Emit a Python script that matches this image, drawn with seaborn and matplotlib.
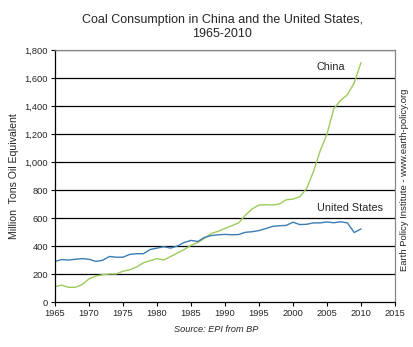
import matplotlib
matplotlib.use("Agg")
import matplotlib.pyplot as plt
import seaborn as sns
import pandas as pd

years = list(range(1965, 2011))
china = [110, 120, 105, 105, 125, 165, 185, 195, 200, 200,
         220, 230, 250, 280, 295, 310, 300, 325, 350, 375,
         405, 425, 455, 490, 505, 525, 545, 565, 620, 665,
         693, 695, 693, 700, 730, 735, 752, 810, 930, 1080,
         1200, 1380, 1440, 1480, 1565, 1710]
us = [290, 303, 300, 305, 310, 305, 290, 298, 325, 320,
      320, 340, 345, 345, 375, 385, 395, 385, 400, 425,
      440, 432, 462, 475, 480, 483, 480, 482, 498, 502,
      510, 525, 540, 545, 547, 570, 553, 555, 565, 565,
      572, 566, 573, 565, 496, 522]

df = pd.DataFrame({"Year": years * 2,
                   "Value": china + us,
                   "Country": ["China"] * len(years) + ["United States"] * len(years)})

sns.set_style("white")
plt.rcParams['font.family'] = ['Liberation Sans', 'DejaVu Sans']

fig = plt.figure(figsize=(4.14, 3.47), dpi=100)
ax = fig.add_axes([55/414, 1-302/347, 340/414, 252/347])

sns.lineplot(data=df, x="Year", y="Value", hue="Country",
             palette={"China": "#9CCB5E", "United States": "#3B7DB4"},
             linewidth=1.0, legend=False, ax=ax)

ax.set_xlim(1965, 2015)
ax.set_ylim(0, 1800)
ax.set_xticks(range(1965, 2016, 5))
ax.set_yticks(range(0, 1801, 200))
ax.set_yticklabels([f"{v:,}" for v in range(0, 1801, 200)])
ax.tick_params(axis='both', labelsize=6.7, length=3, width=0.8, color='black', pad=2)
ax.tick_params(axis='y', left=True)
ax.tick_params(axis='x', bottom=True)
for v in range(200, 1801, 200):
    ax.axhline(v, color='black', linewidth=0.9, zorder=0)
ax.spines['left'].set_color('black')
ax.spines['bottom'].set_color('black')
ax.spines['top'].set_color('#888888')
ax.spines['right'].set_color('#888888')
for s in ax.spines.values():
    s.set_linewidth(0.9)

ax.set_xlabel("")
ax.set_ylabel("Million  Tons Oil Equivalent", fontsize=7.6, labelpad=4)

ax.text(2003.5, 1680, "China", fontsize=7.8, ha='left', va='center')
ax.text(2003.5, 670, "United States", fontsize=7.8, ha='left', va='center')

fig.text(222/414, 1-27/347, "Coal Consumption in China and the United States,\n1965-2010",
         ha='center', va='center', fontsize=9.0, linespacing=1.15)
fig.text(216/414, 1-330/347, "Source: EPI from BP", ha='center', va='center',
         fontsize=6.6, style='italic')
fig.text(405/414, 1-180/347, "Earth Policy Institute - www.earth-policy.org",
         ha='center', va='center', rotation=90, fontsize=6.8)

fig.savefig("out.png", dpi=100)
